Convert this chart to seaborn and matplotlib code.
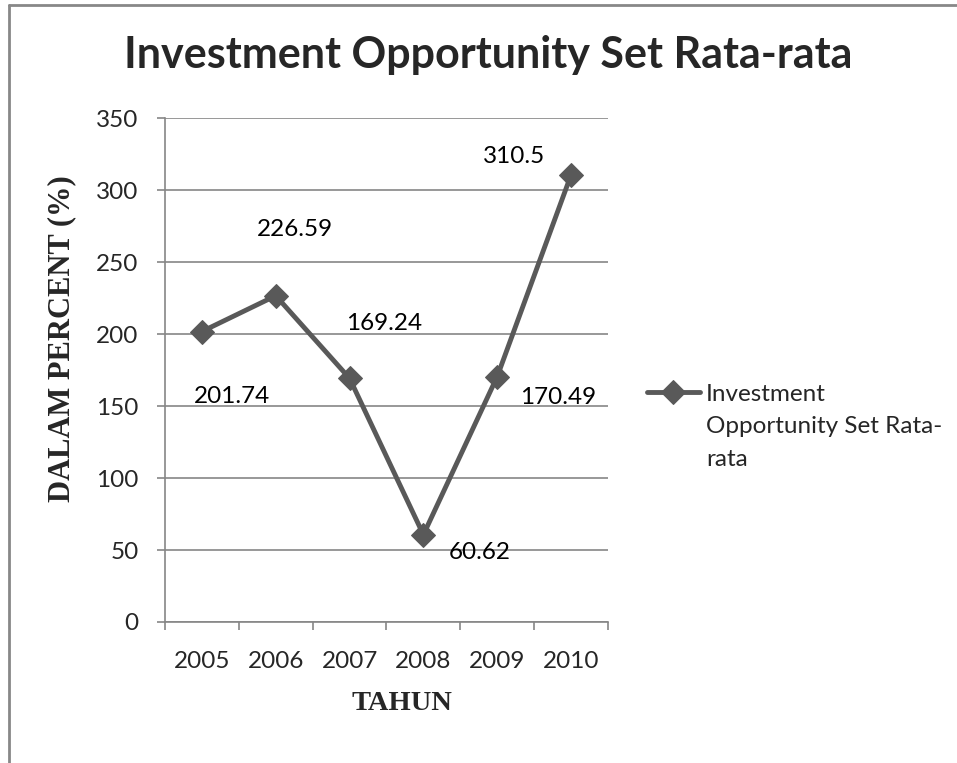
import numpy as np
import pandas as pd
import matplotlib
matplotlib.use("Agg")
import matplotlib.pyplot as plt
import seaborn as sns

tahun = ["2005", "2006", "2007", "2008", "2009", "2010"]
ios = [201.74, 226.59, 169.24, 60.62, 170.49, 310.5]
label_ios = ["201.74", "226.59", "169.24", "60.62", "170.49", "310.5"]
judul = "Investment Opportunity Set Rata-rata"
legend_lines = ["Investment", "Opportunity Set Rata-", "rata"]

df = pd.DataFrame({"Tahun": tahun, "IOS": ios})

sns.set_style("white")
plt.rcParams["font.family"] = ["Lato", "DejaVu Sans"]

fig = plt.figure(figsize=(9.57, 7.63), dpi=100)
ax = fig.add_axes([0.1724, 0.1848, 0.4629, 0.6605])

grey = "#595959"
axis_grey = "#868686"
fs = 17.5

sns.lineplot(data=df, x="Tahun", y="IOS", ax=ax, color=grey, linewidth=3.5,
             marker="D", markersize=12, markeredgecolor=grey,
             label=legend_lines[0])

# data labels placed like the Excel chart (offset in pixels)
offsets = [(30, -65), (19, 66), (35, 55), (56, -18), (61, -21), (-57, 18)]
for i, (v, t) in enumerate(zip(ios, label_ios)):
    ax.annotate(t, (i, v), xytext=offsets[i], textcoords="offset pixels",
                ha="center", va="center", fontsize=fs, color="black")

ax.set_ylim(0, 350)
ax.set_xlim(-0.5, 5.5)
ax.set_yticks(np.arange(0, 351, 50))
ax.set_xticks(np.arange(-0.5, 6.0, 1), minor=True)
ax.tick_params(axis="x", which="major", length=0, pad=21, labelsize=fs)
ax.tick_params(axis="x", which="minor", bottom=True, length=6, width=1.2,
               color=axis_grey, direction="out")
ax.tick_params(axis="y", left=True, length=6, width=1.2, color=axis_grey,
               direction="out", pad=13, labelsize=fs)
ax.yaxis.grid(True, color=axis_grey, linewidth=1.2)
ax.set_axisbelow(True)
for s in ["top", "right"]:
    ax.spines[s].set_visible(False)
for s in ["left", "bottom"]:
    ax.spines[s].set_color(axis_grey)
    ax.spines[s].set_linewidth(1.2)

ax.set_xlabel("TAHUN", family="Liberation Serif", fontweight="bold", fontsize=20.5)
ax.set_ylabel("DALAM PERCENT (%)", family="Liberation Serif", fontweight="bold", fontsize=22)
ax.xaxis.label.set_verticalalignment("center")
ax.yaxis.label.set_verticalalignment("center")
ax.xaxis.set_label_coords(0.535, -0.162)
ax.yaxis.set_label_coords(-0.2325, 0.5615)

fig.text(0.5105, 0.928, judul, ha="center", va="center", fontsize=31, fontweight="bold")

leg = ax.legend(loc="center left", bbox_to_anchor=(1.088, 0.452), frameon=False,
                fontsize=fs, handlelength=2.18, handletextpad=0.25,
                borderpad=0, borderaxespad=0)

# wrapped legend label: continue the text under the first line
fig.canvas.draw()
t0 = leg.get_texts()[0]
bx, by = t0.get_transform().transform(t0.get_position())
W, H = fig.get_size_inches() * fig.dpi
for k, line in enumerate(legend_lines[1:], start=1):
    fig.text(bx / W, (by - 32.5 * k) / H, line, ha="left", va="baseline", fontsize=fs)

# outer chart frame (left and top edges visible)
fig.add_artist(plt.Line2D([0.0094, 0.0094], [0, 0.9935], transform=fig.transFigure,
                          color="#888888", linewidth=2))
fig.add_artist(plt.Line2D([0.0094, 1.0], [0.9935, 0.9935], transform=fig.transFigure,
                          color="#888888", linewidth=2))

fig.savefig("out.png", dpi=100)
